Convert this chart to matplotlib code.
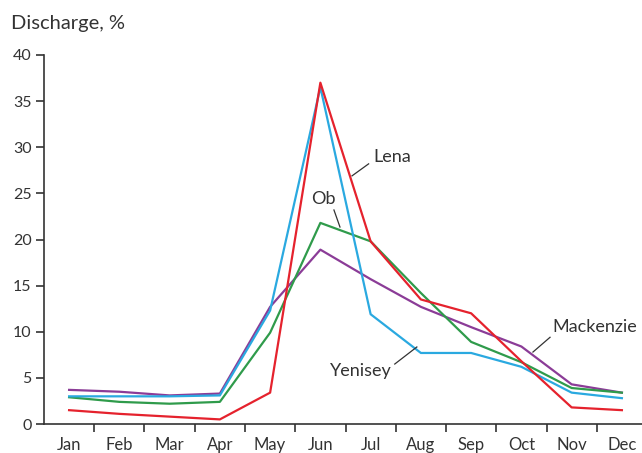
import numpy as np
import matplotlib
matplotlib.use("Agg")
import matplotlib.pyplot as plt

plt.rcParams['font.family'] = ['Lato', 'DejaVu Sans']

months = ['Jan', 'Feb', 'Mar', 'Apr', 'May', 'Jun',
          'Jul', 'Aug', 'Sep', 'Oct', 'Nov', 'Dec']

# monthly share of annual discharge, %
lena = [1.5, 1.1, 0.8, 0.5, 3.4, 37.0, 19.8, 13.5, 12.0, 6.8, 1.8, 1.5]
yenisey = [3.0, 3.0, 3.0, 3.1, 12.3, 36.5, 11.9, 7.7, 7.7, 6.2, 3.4, 2.8]
ob = [2.9, 2.4, 2.2, 2.4, 9.9, 21.8, 19.8, 14.2, 8.9, 6.7, 3.9, 3.4]
mackenzie = [3.7, 3.5, 3.1, 3.3, 12.7, 18.9, 15.7, 12.7, 10.5, 8.4, 4.3, 3.4]

c_lena = '#e5222d'
c_yen = '#2aa9e0'
c_ob = '#2f9b4b'
c_mac = '#8b3c97'
txt = '#333333'

fig = plt.figure(figsize=(6.42, 4.53), dpi=100)
ax = fig.add_axes([0.0685, 0.064, 0.9315, 0.8146])

x = np.arange(len(months))
lw = 1.6
ax.plot(x, mackenzie, color=c_mac, lw=lw)
ax.plot(x, ob, color=c_ob, lw=lw)
ax.plot(x, yenisey, color=c_yen, lw=lw)
ax.plot(x, lena, color=c_lena, lw=lw)

ax.set_xlim(-0.5, 11.4)
ax.set_ylim(0, 40)
ax.set_yticks(np.arange(0, 41, 5))
ax.set_xticks(x)
ax.set_xticklabels(months)
ax.set_xticks(np.arange(0.5, 11, 1), minor=True)
ax.tick_params(axis='x', which='major', length=0, pad=9, labelsize=12, labelcolor=txt)
ax.tick_params(axis='x', which='minor', length=6, width=1.2, color=txt, direction='out')
ax.tick_params(axis='y', length=6, width=1.2, color=txt, pad=3, labelsize=11.5, labelcolor=txt)

for s in ['top', 'right']:
    ax.spines[s].set_visible(False)
for s in ['left', 'bottom']:
    ax.spines[s].set_color(txt)
    ax.spines[s].set_linewidth(1.2)

fig.text(11 / 642, 1 - 29 / 453, 'Discharge, %', fontsize=14.5, color=txt, ha='left', va='baseline')

# series labels with leader lines (data coordinates)
def label(text, xy_text, xy_a, xy_b, ha='left'):
    ax.text(*xy_text, text, fontsize=13, color=txt, ha=ha, va='center')
    ax.plot([xy_a[0], xy_b[0]], [xy_a[1], xy_b[1]], color=txt, lw=0.9)

label('Lena', (6.045, 28.9), (5.63, 26.9), (5.96, 28.2))
label('Ob', (5.05, 24.4), (5.27, 23.2), (5.39, 21.35), ha='center')
label('Yenisey', (5.19, 5.75), (6.48, 6.5), (6.92, 8.35))
label('Mackenzie', (9.62, 10.5), (9.23, 7.8), (9.57, 9.4))

plt.savefig('out.png', dpi=100)
